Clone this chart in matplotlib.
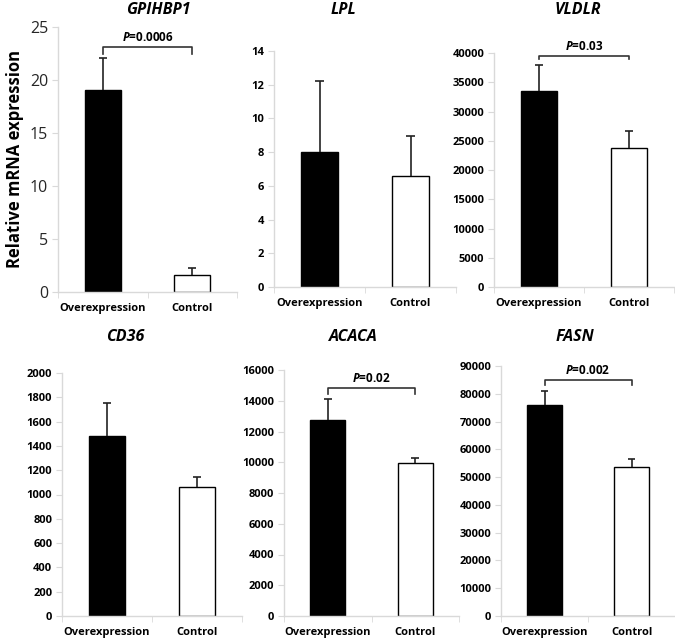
import matplotlib
matplotlib.use("Agg")
import matplotlib.pyplot as plt

plt.rcParams['font.family'] = ['Open Sans', 'DejaVu Sans']
plt.rcParams['mathtext.fontset'] = 'custom'
plt.rcParams['mathtext.it'] = 'Open Sans:italic:bold'
plt.rcParams['mathtext.rm'] = 'Open Sans:bold'

groups = ["Overexpression", "Control"]
genes = ["GPIHBP1", "LPL", "VLDLR", "CD36", "ACACA", "FASN"]
means = {
    "GPIHBP1": [19.1, 1.6],
    "LPL": [8.0, 6.6],
    "VLDLR": [33500, 23700],
    "CD36": [1480, 1065],
    "ACACA": [12750, 9950],
    "FASN": [76000, 53500],
}
errors = {
    "GPIHBP1": [3.0, 0.7],
    "LPL": [4.25, 2.35],
    "VLDLR": [4500, 2900],
    "CD36": [270, 80],
    "ACACA": [1350, 300],
    "FASN": [5000, 3000],
}
y_max = {"GPIHBP1": 25, "LPL": 14, "VLDLR": 40000,
         "CD36": 2000, "ACACA": 16000, "FASN": 90000}
y_step = {"GPIHBP1": 5, "LPL": 2, "VLDLR": 5000,
          "CD36": 200, "ACACA": 2000, "FASN": 10000}
# p-value label, bracket height, bracket drop
pvals = {
    "GPIHBP1": ("0.0006", 23.1, 0.6),
    "VLDLR": ("0.03", 39500, 600),
    "ACACA": ("0.02", 14830, 400),
    "FASN": ("0.002", 85000, 1800),
}

# axes boxes in pixels: left, right, top, bottom
boxes = {
    "GPIHBP1": (58, 237, 27, 292),
    "LPL": (274, 456, 51, 287),
    "VLDLR": (494, 674, 53, 287),
    "CD36": (62, 242, 373, 616),
    "ACACA": (284, 459, 370, 616),
    "FASN": (501, 675, 366, 616),
}
title_pos = {
    "GPIHBP1": (158, 10), "LPL": (343, 10), "VLDLR": (578, 10),
    "CD36": (125, 337), "ACACA": (353, 337), "FASN": (575, 337),
}

W, H = 675, 641
fig = plt.figure(figsize=(W / 100, H / 100), dpi=100)
grid = '#d9d9d9'

for g in genes:
    l, r, t, b = boxes[g]
    ax = fig.add_axes([l / W, (H - b) / H, (r - l) / W, (b - t) / H])
    x = [0, 1]
    ax.bar(x, means[g], width=0.4, color=['black', 'white'],
           edgecolor='black', linewidth=1.0, zorder=2)
    tops = [m + e for m, e in zip(means[g], errors[g])]
    ax.vlines(x, means[g], tops, color='#222222', lw=1.2, zorder=3)
    for xi, tp in zip(x, tops):
        ax.hlines(tp, xi - 0.045, xi + 0.045, color='#222222', lw=1.2, zorder=3)
    ax.set_xlim(-0.5, 1.5)
    ax.set_ylim(0, y_max[g])
    step = y_step[g]
    ax.set_yticks([i * step for i in range(int(y_max[g] / step) + 1)])
    ax.set_xticks(x)
    ax.set_xticklabels(groups, fontsize=8, fontweight='bold')
    ax.set_xticks([-0.5, 0.5, 1.5], minor=True)
    ax.tick_params(axis='x', which='major', length=0, pad=8)
    ax.tick_params(axis='x', which='minor', length=4, color=grid, direction='out')
    ax.tick_params(axis='y', length=4, color=grid, pad=3)
    for s in ['top', 'right']:
        ax.spines[s].set_visible(False)
    for s in ['left', 'bottom']:
        ax.spines[s].set_color(grid)
        ax.spines[s].set_linewidth(1.0)
    if g == "GPIHBP1":
        for lab in ax.get_yticklabels():
            lab.set_fontsize(11.5)
            lab.set_color('#262626')
        ax.set_ylabel("Relative mRNA expression", fontsize=12, fontweight='bold', labelpad=4)
    else:
        for lab in ax.get_yticklabels():
            lab.set_fontsize(8)
            lab.set_fontweight('bold')
    if g in pvals:
        label, yb, drop = pvals[g]
        ax.plot([0, 0, 1, 1], [yb - drop, yb, yb, yb - drop], color='#333333',
                lw=1.2, zorder=4, clip_on=False)
        ax.annotate(r"$\mathit{P}$=" + label, xy=(0.5, yb), xytext=(0, 2),
                    textcoords='offset points', ha='center', va='bottom',
                    fontsize=8.5, fontweight='bold', annotation_clip=False)
    tx, ty = title_pos[g]
    fig.text(tx / W, 1 - ty / H, g, ha='center', va='center', fontsize=11.5,
             fontweight='bold', fontstyle='italic')

fig.savefig("out.png", dpi=100)
